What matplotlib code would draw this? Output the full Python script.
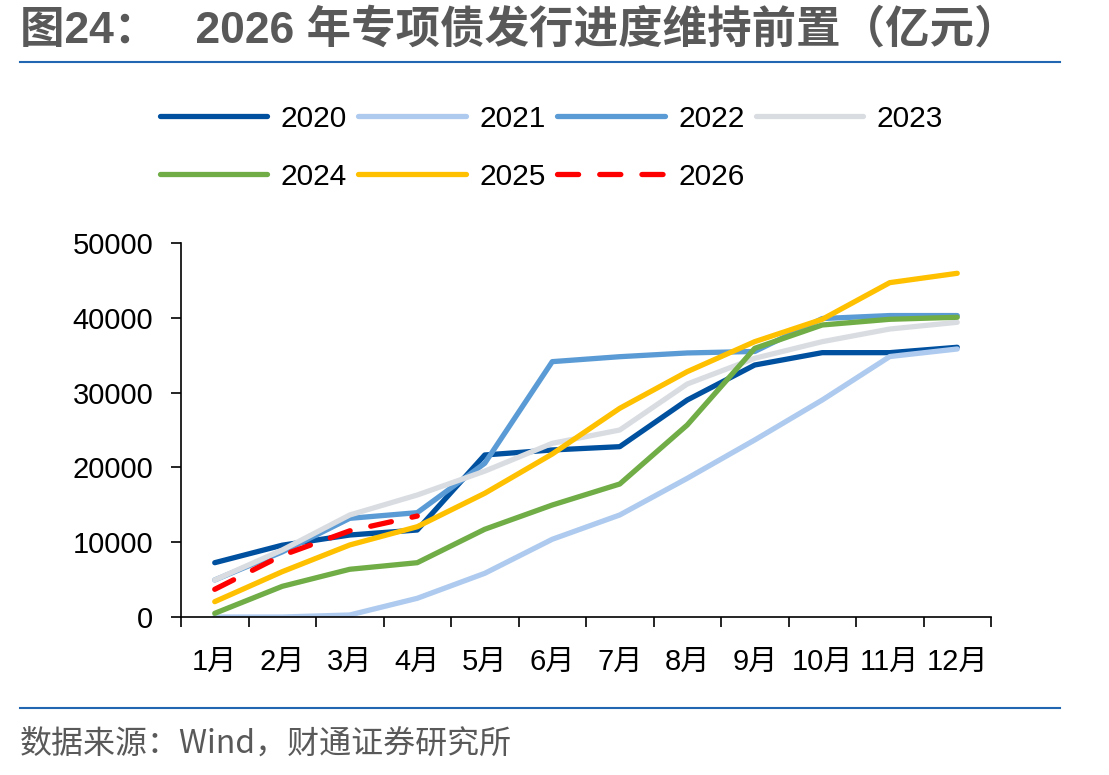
import matplotlib
matplotlib.use("Agg")
import matplotlib.pyplot as plt
import numpy as np

plt.rcParams['font.family'] = ['Liberation Sans', 'Noto Sans CJK SC', 'DejaVu Sans']

months = ["1月", "2月", "3月", "4月", "5月", "6月", "7月", "8月", "9月", "10月", "11月", "12月"]

y2020 = [7260, 9600, 10960, 11630, 21660, 22330, 22770, 29010, 33690, 35340, 35340, 36060]
y2021 = [0, 0, 270, 2500, 5840, 10390, 13640, 18540, 23670, 29010, 34820, 35830]
y2022 = [4950, 8700, 13190, 13950, 20550, 34140, 34800, 35300, 35500, 39900, 40300, 40300]
y2023 = [4950, 8960, 13640, 16310, 19500, 23220, 25000, 31150, 34590, 36810, 38500, 39400]
y2024 = [490, 4100, 6380, 7260, 11730, 14970, 17780, 25670, 35920, 39040, 39800, 40070]
y2025 = [2050, 6060, 9630, 12070, 16540, 21790, 27900, 32800, 36810, 39800, 44700, 45950]
y2026 = [3700, 8250, 11520, 13500]

series = [
    ("2020", y2020, "#0050a0"),
    ("2021", y2021, "#aecbef"),
    ("2022", y2022, "#5b9bd5"),
    ("2023", y2023, "#d9dde2"),
    ("2024", y2024, "#70ad47"),
    ("2025", y2025, "#ffc000"),
]

fig = plt.figure(figsize=(11.09, 7.75), dpi=100)
ax = fig.add_axes([181 / 1109, 1 - 617 / 775, 810 / 1109, 374 / 775])

x = np.arange(len(months))
lines = {}
for name, vals, col in series:
    l, = ax.plot(x, vals, color=col, lw=3.8, solid_capstyle='round', label=name)
    lines[name] = l
l, = ax.plot(x[:len(y2026)], y2026, color="#ff0000", lw=3.8, dashes=(4, 4),
             dash_capstyle='round', label="2026")
lines["2026"] = l

ax.set_xlim(-0.5, 11.5)
ax.set_ylim(0, 50000)
ax.set_yticks([0, 10000, 20000, 30000, 40000, 50000])
ax.set_xticks(x, labels=months)
ax.set_xticks(np.arange(-0.5, 12, 1), minor=True)
ax.tick_params(axis='x', which='major', length=0, pad=22, labelsize=21)
ax.tick_params(axis='x', which='minor', length=7, width=1.2, direction='out')
ax.tick_params(axis='y', length=7, width=1.2, pad=13, labelsize=21)
for s in ['top', 'right']:
    ax.spines[s].set_visible(False)
ax.spines['left'].set_linewidth(1.2)
ax.spines['bottom'].set_linewidth(1.2)

# legend fills column-wise, so order the handles to read row by row
order = ["2020", "2024", "2021", "2025", "2022", "2026", "2023"]
fig.legend(handles=[lines[k] for k in order], ncol=4, loc='upper left',
           bbox_to_anchor=(133 / 1109, 1 - 78 / 775),
           frameon=False, fontsize=21.5, handlelength=3.6, handletextpad=0.45,
           columnspacing=0.38, labelspacing=1.0)

fig.text(20 / 1109, 1 - 30 / 775, "图24：   2026 年专项债发行进度维持前置（亿元）", fontsize=32,
         color="#595959", fontweight='bold', va='center', ha='left',
         family=['Liberation Sans', 'Noto Sans CJK SC', 'DejaVu Sans'])
fig.add_artist(plt.Line2D([20 / 1109, 1060 / 1109], [1 - 62 / 775, 1 - 62 / 775], color="#2166b0", lw=1.5))
fig.add_artist(plt.Line2D([20 / 1109, 1060 / 1109], [1 - 708 / 775, 1 - 708 / 775], color="#2166b0", lw=1.5))
fig.text(20 / 1109, 1 - 745 / 775, "数据来源：Wind，财通证券研究所", fontsize=23,
         color="#595959", va='center', ha='left', family=['Noto Sans CJK SC', 'DejaVu Sans'])

fig.savefig("out.png", dpi=100)
